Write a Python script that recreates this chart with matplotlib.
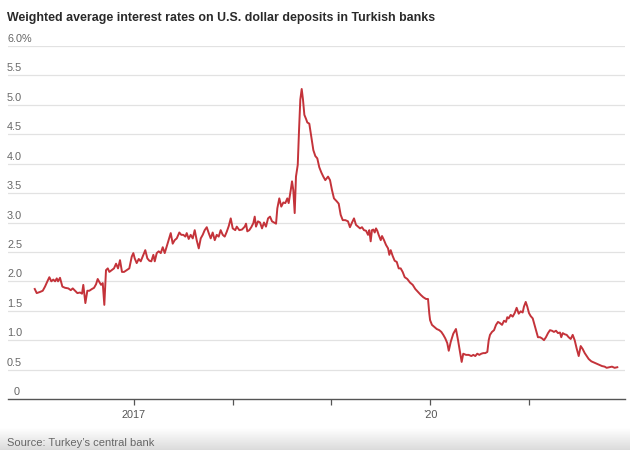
import matplotlib
matplotlib.use("Agg")
import matplotlib.pyplot as plt
import matplotlib.transforms as mtransforms
import numpy as np

# ---- data (decimal years, percent) ----
dates = [
    2015.994, 2016.014, 2016.048, 2016.075, 2016.098, 2016.122, 2016.142, 2016.162, 2016.182, 2016.200,
    2016.217, 2016.230, 2016.250, 2016.274, 2016.301, 2016.334, 2016.359, 2016.379, 2016.402, 2016.426,
    2016.453, 2016.473, 2016.486, 2016.507, 2016.527, 2016.547, 2016.574, 2016.595, 2016.615, 2016.632,
    2016.648, 2016.666, 2016.683, 2016.699, 2016.716, 2016.734, 2016.750, 2016.774, 2016.797, 2016.818,
    2016.838, 2016.858, 2016.878, 2016.899, 2016.926, 2016.952, 2016.977, 2016.993, 2017.007, 2017.027,
    2017.048, 2017.068, 2017.094, 2017.114, 2017.135, 2017.155, 2017.175, 2017.196, 2017.210, 2017.230,
    2017.250, 2017.271, 2017.291, 2017.311, 2017.331, 2017.352, 2017.372, 2017.392, 2017.412, 2017.433,
    2017.459, 2017.479, 2017.500, 2017.520, 2017.534, 2017.554, 2017.574, 2017.595, 2017.615, 2017.635,
    2017.656, 2017.676, 2017.696, 2017.716, 2017.737, 2017.757, 2017.777, 2017.797, 2017.818, 2017.838,
    2017.858, 2017.878, 2017.899, 2017.919, 2017.939, 2017.960, 2017.980, 2018.000, 2018.026, 2018.041,
    2018.067, 2018.094, 2018.122, 2018.135, 2018.148, 2018.168, 2018.188, 2018.209, 2018.223, 2018.236,
    2018.256, 2018.277, 2018.297, 2018.317, 2018.337, 2018.358, 2018.378, 2018.398, 2018.418, 2018.439,
    2018.452, 2018.472, 2018.492, 2018.513, 2018.533, 2018.553, 2018.567, 2018.588, 2018.601, 2018.614,
    2018.628, 2018.641, 2018.659, 2018.672, 2018.685, 2018.699, 2018.712, 2018.726, 2018.743, 2018.756,
    2018.776, 2018.796, 2018.817, 2018.837, 2018.857, 2018.877, 2018.898, 2018.918, 2018.938, 2018.966,
    2018.986, 2019.006, 2019.026, 2019.054, 2019.074, 2019.094, 2019.115, 2019.141, 2019.168, 2019.188,
    2019.209, 2019.229, 2019.249, 2019.270, 2019.290, 2019.310, 2019.330, 2019.351, 2019.371, 2019.384,
    2019.398, 2019.411, 2019.425, 2019.439, 2019.452, 2019.465, 2019.479, 2019.500, 2019.513, 2019.533,
    2019.553, 2019.574, 2019.587, 2019.601, 2019.621, 2019.641, 2019.662, 2019.682, 2019.702, 2019.722,
    2019.743, 2019.769, 2019.796, 2019.824, 2019.850, 2019.877, 2019.905, 2019.931, 2019.959, 2019.979,
    2019.992, 2020.000, 2020.019, 2020.040, 2020.067, 2020.093, 2020.114, 2020.134, 2020.154, 2020.174,
    2020.189, 2020.209, 2020.235, 2020.262, 2020.283, 2020.303, 2020.320, 2020.336, 2020.364, 2020.391,
    2020.418, 2020.438, 2020.458, 2020.478, 2020.499, 2020.519, 2020.539, 2020.559, 2020.580, 2020.594,
    2020.607, 2020.627, 2020.648, 2020.668, 2020.688, 2020.708, 2020.729, 2020.749, 2020.769, 2020.782,
    2020.796, 2020.817, 2020.837, 2020.857, 2020.877, 2020.898, 2020.918, 2020.938, 2020.951, 2020.969,
    2020.985, 2021.002, 2021.019, 2021.040, 2021.053, 2021.073, 2021.093, 2021.114, 2021.134, 2021.154,
    2021.174, 2021.195, 2021.215, 2021.235, 2021.255, 2021.276, 2021.296, 2021.316, 2021.329, 2021.344,
    2021.364, 2021.384, 2021.404, 2021.425, 2021.445, 2021.465, 2021.485, 2021.506, 2021.526, 2021.546,
    2021.567, 2021.587, 2021.607, 2021.634, 2021.661, 2021.688, 2021.714, 2021.742, 2021.769, 2021.789,
    2021.816, 2021.843, 2021.870, 2021.897,
]
rates = [
    1.87, 1.80, 1.82, 1.84, 1.91, 2.00, 2.07, 2.00, 2.03, 2.00,
    2.05, 2.00, 2.06, 1.91, 1.89, 1.88, 1.85, 1.88, 1.84, 1.80,
    1.81, 1.79, 1.94, 1.63, 1.84, 1.84, 1.87, 1.89, 1.95, 2.04,
    1.99, 1.94, 1.97, 1.60, 2.19, 2.22, 2.16, 2.19, 2.22, 2.30,
    2.22, 2.36, 2.16, 2.16, 2.19, 2.22, 2.42, 2.48, 2.39, 2.31,
    2.38, 2.34, 2.45, 2.53, 2.39, 2.35, 2.34, 2.45, 2.34, 2.48,
    2.51, 2.48, 2.58, 2.48, 2.59, 2.70, 2.82, 2.64, 2.70, 2.73,
    2.83, 2.79, 2.79, 2.76, 2.82, 2.72, 2.79, 2.73, 2.87, 2.70,
    2.56, 2.73, 2.79, 2.87, 2.92, 2.82, 2.73, 2.83, 2.70, 2.79,
    2.76, 2.87, 2.79, 2.76, 2.84, 2.94, 3.07, 2.90, 2.87, 2.93,
    2.87, 2.88, 2.93, 2.98, 2.85, 2.87, 2.92, 2.99, 3.10, 2.93,
    3.02, 3.00, 2.90, 3.00, 2.93, 3.07, 3.10, 3.02, 3.00, 2.98,
    3.24, 3.41, 3.27, 3.34, 3.33, 3.41, 3.33, 3.55, 3.70, 3.55,
    3.16, 3.78, 3.98, 4.57, 5.09, 5.27, 5.09, 4.83, 4.76, 4.70,
    4.68, 4.46, 4.23, 4.13, 4.09, 3.94, 3.85, 3.78, 3.72, 3.78,
    3.72, 3.55, 3.41, 3.36, 3.32, 3.13, 3.04, 3.04, 3.02, 2.92,
    3.00, 3.07, 2.96, 2.93, 2.90, 2.92, 2.87, 2.86, 2.79, 2.87,
    2.68, 2.87, 2.88, 2.83, 2.90, 2.86, 2.79, 2.70, 2.77, 2.70,
    2.62, 2.56, 2.45, 2.53, 2.43, 2.35, 2.33, 2.22, 2.22, 2.16,
    2.07, 2.04, 1.98, 1.94, 1.87, 1.82, 1.77, 1.73, 1.70, 1.70,
    1.45, 1.34, 1.26, 1.23, 1.19, 1.17, 1.14, 1.09, 1.03, 0.95,
    0.82, 0.97, 1.11, 1.19, 1.00, 0.80, 0.63, 0.77, 0.75, 0.75,
    0.73, 0.75, 0.73, 0.77, 0.75, 0.77, 0.78, 0.78, 0.80, 1.00,
    1.09, 1.14, 1.17, 1.26, 1.31, 1.29, 1.26, 1.33, 1.31, 1.39,
    1.37, 1.43, 1.40, 1.46, 1.55, 1.45, 1.49, 1.47, 1.57, 1.65,
    1.57, 1.46, 1.41, 1.37, 1.29, 1.17, 1.05, 1.05, 1.03, 1.00,
    1.05, 1.12, 1.17, 1.16, 1.14, 1.16, 1.12, 1.13, 1.05, 1.12,
    1.10, 1.09, 1.05, 1.02, 1.09, 1.00, 0.86, 0.73, 0.90, 0.85,
    0.78, 0.73, 0.68, 0.64, 0.62, 0.60, 0.58, 0.56, 0.55, 0.53,
    0.54, 0.55, 0.53, 0.54,
]
y_ticks = [0, 0.5, 1.0, 1.5, 2.0, 2.5, 3.0, 3.5, 4.0, 4.5, 5.0, 5.5, 6.0]
y_labels = ["0", "0.5", "1.0", "1.5", "2.0", "2.5", "3.0", "3.5", "4.0", "4.5", "5.0", "5.5", "6.0%"]
x_ticks = [2017, 2018, 2019, 2020, 2021]
x_labels = ["2017", "", "", "\u201920", ""]

title = "Weighted average interest rates on U.S. dollar deposits in Turkish banks"
source = "Source: Turkey\u2019s central bank"

plt.rcParams["font.family"] = ["Liberation Sans", "DejaVu Sans"]

W, H = 630, 450
fig = plt.figure(figsize=(W / 100, H / 100), dpi=100)
fig.patch.set_facecolor("white")

# faint screenshot shadow at the very bottom
grad_ax = fig.add_axes([0, 0, 1, 22 / H], zorder=-5)
grad = np.linspace(0.86, 1.0, 50).reshape(-1, 1)
grad_ax.imshow(np.repeat(grad[:, :, None], 3, axis=2), aspect="auto", origin="lower",
               extent=[0, 1, 0, 1])
grad_ax.axis("off")

ax = fig.add_axes([8 / W, 1 - 399 / H, (625 - 8) / W, (399 - 46) / H])
ax.set_xlim(2015.723, 2021.975)
ax.set_ylim(0, 6)
ax.set_facecolor("white")
ax.patch.set_alpha(0)

for s in ["top", "right", "left"]:
    ax.spines[s].set_visible(False)
ax.spines["bottom"].set_color("#555555")
ax.spines["bottom"].set_linewidth(1.0)

for v in y_ticks[1:]:
    ax.axhline(v, color="#e2e2e2", lw=0.9, zorder=0)

ax.plot(dates, rates, color="#c4333a", lw=1.4, zorder=3, solid_joinstyle="round")

ax.set_yticks([])
ax.set_xticks(x_ticks)
ax.set_xticklabels(x_labels)
ax.tick_params(axis="x", length=4, width=0.9, color="#555555", labelsize=7.8,
               labelcolor="#555555", pad=4)

base = mtransforms.blended_transform_factory(fig.transFigure, ax.transData)
trans = mtransforms.offset_copy(base, fig=fig, x=0, y=4, units="dots")
for v, lab in zip(y_ticks, y_labels):
    if lab == "0":
        ax.text(20 / W, v, lab, transform=trans, ha="right", va="baseline",
                fontsize=7.8, color="#666666")
    else:
        ax.text(7 / W, v, lab, transform=trans, ha="left", va="baseline",
                fontsize=7.8, color="#666666")

fig.text(7 / W, 1 - 21 / H, title, fontsize=8.9, fontweight="bold", color="#2a2a2a",
         ha="left", va="baseline")
fig.text(7 / W, 1 - 446 / H, source, fontsize=8, color="#666666", ha="left", va="baseline")

fig.savefig("out.png", dpi=100)
